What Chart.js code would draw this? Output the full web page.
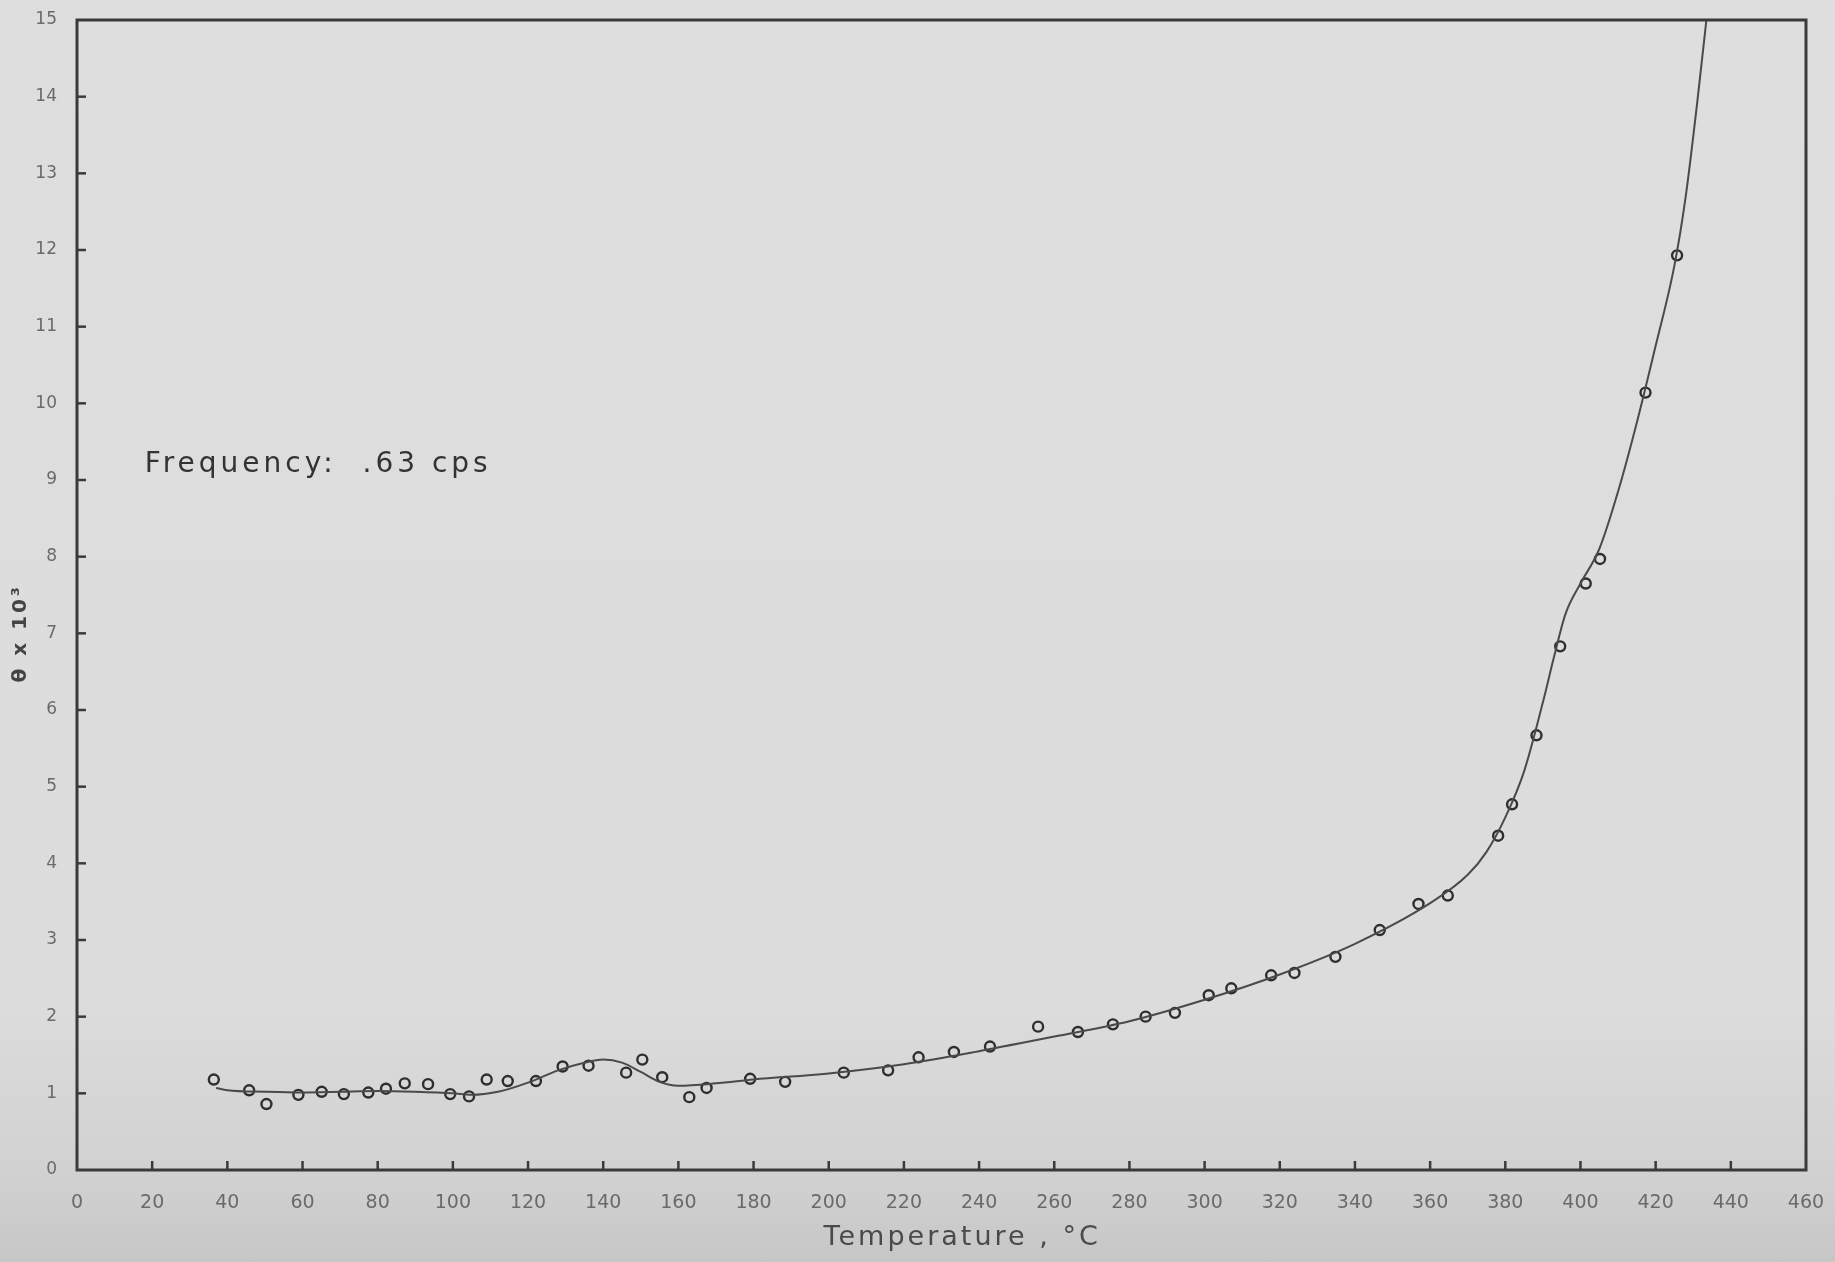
<!DOCTYPE html>
<html>
<head>
<meta charset="utf-8">
<title>Damping vs temperature</title>
<script src="https://cdn.jsdelivr.net/npm/chart.js@4.4.1/dist/chart.umd.min.js"></script>
<style>
  html, body { margin: 0; padding: 0; }
  body {
    width: 1835px; height: 1262px; overflow: hidden;
    background: linear-gradient(to bottom, #dedede 0%, #dcdcdc 80%, #d0d0d0 94%, #c6c6c6 100%);
  }
  #wrap { position: relative; width: 1835px; height: 1262px; }
</style>
</head>
<body>
<div id="wrap"><canvas id="c" width="1835" height="1262"></canvas></div>
<script>
// Measured points: temperature (°C) and damping θ × 10³
const temps = [36.4, 45.8, 50.4, 58.9, 65.1, 71.0, 77.5, 82.2, 87.2, 93.4,
               99.3, 104.3, 109.0, 114.6, 122.1, 129.2, 136.1, 146.1, 150.4, 155.7,
               162.9, 167.5, 179.1, 188.4, 204.0, 215.8, 223.9, 233.3, 242.9, 255.7,
               266.3, 275.6, 284.3, 292.1, 301.1, 307.1, 317.7, 323.9, 334.8, 346.6,
               356.9, 364.7, 378.1, 381.8, 388.3, 394.6, 401.4, 405.2, 417.3, 425.7];
const theta = [1.18, 1.04, 0.86, 0.98, 1.02, 0.99, 1.01, 1.06, 1.13, 1.12,
               0.99, 0.96, 1.18, 1.16, 1.16, 1.35, 1.36, 1.27, 1.44, 1.21,
               0.95, 1.07, 1.19, 1.15, 1.27, 1.30, 1.47, 1.54, 1.61, 1.87,
               1.80, 1.90, 2.00, 2.05, 2.28, 2.37, 2.54, 2.57, 2.78, 3.13,
               3.47, 3.58, 4.36, 4.77, 5.67, 6.83, 7.65, 7.97, 10.14, 11.93];

// Hand-drawn smooth curve through the measurements
const curveT     = [37, 40, 50, 60, 70, 80, 90, 100, 105, 112,
                    120, 128, 135, 140, 145, 150, 155, 160, 170, 180,
                    200, 220, 240, 260, 280, 300, 320, 340, 360, 370,
                    375, 380, 385, 390, 393, 396, 400, 405, 410, 415,
                    420, 425, 428, 431, 433.5];
const curveTheta = [1.07, 1.04, 1.02, 1.01, 1.02, 1.03, 1.02, 1.00, 0.98, 1.02,
                    1.14, 1.30, 1.40, 1.44, 1.40, 1.28, 1.15, 1.10, 1.13, 1.18,
                    1.26, 1.38, 1.55, 1.74, 1.94, 2.22, 2.55, 2.95, 3.48, 3.85,
                    4.15, 4.60, 5.20, 6.10, 6.70, 7.25, 7.65, 8.10, 8.85, 9.75,
                    10.75, 11.80, 12.70, 13.90, 15.0];

// Axis ranges and tick steps
const xRange = [0, 460];
const xStep = 20;
const yRange = [0, 15];
const yStep = 1;

// Text drawn on the figure
const xTitle = 'Temperature , °C';
const yTitle = 'θ x 10³';
const noteText = 'Frequency:  .63 cps';
const notePos = [18, 9.2];

const ink = '#3a3a3a';
const labelInk = '#6a6a6a';

const measured = temps.map((t, i) => ({ x: t, y: theta[i] }));
const curve = curveT.map((t, i) => ({ x: t, y: curveTheta[i] }));

// Frame, inward tick marks and free text
const framePlugin = {
  id: 'frame',
  afterDraw(chart) {
    const { ctx, chartArea: a, scales } = chart;
    const xs = scales.x, ys = scales.y;
    ctx.save();
    ctx.strokeStyle = ink;
    ctx.lineWidth = 3;
    ctx.strokeRect(a.left, a.top, a.right - a.left, a.bottom - a.top);

    ctx.lineWidth = 2.5;
    for (let v = xRange[0] + xStep; v < xRange[1]; v += xStep) {
      const px = xs.getPixelForValue(v);
      ctx.beginPath(); ctx.moveTo(px, a.bottom); ctx.lineTo(px, a.bottom - 9); ctx.stroke();
    }
    for (let v = yRange[0] + yStep; v < yRange[1]; v += yStep) {
      const py = ys.getPixelForValue(v);
      ctx.beginPath(); ctx.moveTo(a.left, py); ctx.lineTo(a.left + 9, py); ctx.stroke();
    }

    ctx.textAlign = 'center';
    ctx.textBaseline = 'middle';

    // x axis title
    ctx.fillStyle = '#4a4a4a';
    ctx.font = '27px "DejaVu Sans"';
    ctx.letterSpacing = '3px';
    ctx.fillText(xTitle, xs.getPixelForValue(235.5), 1238);

    // y axis title (rotated)
    ctx.save();
    ctx.translate(21, ys.getPixelForValue(7.0));
    ctx.rotate(-Math.PI / 2);
    ctx.font = 'bold 20px "DejaVu Sans"';
    ctx.letterSpacing = '3px';
    ctx.fillStyle = '#444';
    ctx.fillText(yTitle, 0, 0);
    ctx.restore();

    // frequency note
    ctx.font = '28px "DejaVu Sans"';
    ctx.letterSpacing = '4px';
    ctx.fillStyle = '#333';
    ctx.textAlign = 'left';
    ctx.fillText(noteText, xs.getPixelForValue(notePos[0]), ys.getPixelForValue(notePos[1]));
    ctx.restore();
  }
};

new Chart(document.getElementById('c'), {
  type: 'scatter',
  data: {
    datasets: [
      {
        type: 'line',
        label: 'fit',
        data: curve,
        borderColor: '#4a4a4a',
        borderWidth: 2,
        pointRadius: 0,
        fill: false,
        cubicInterpolationMode: 'monotone'
      },
      {
        label: 'measured',
        data: measured,
        showLine: false,
        pointRadius: 5,
        pointBorderWidth: 2.4,
        pointBorderColor: '#2e2e2e',
        pointBackgroundColor: 'rgba(0,0,0,0)'
      }
    ]
  },
  options: {
    responsive: false,
    animation: false,
    events: [],
    layout: { padding: { top: 20, right: 29, left: 0, bottom: 0 } },
    plugins: { legend: { display: false }, tooltip: { enabled: false } },
    scales: {
      x: {
        type: 'linear',
        min: xRange[0], max: xRange[1],
        afterFit(scale) {
          scale.height = 92;
          scale.paddingLeft = 0;
          scale.paddingRight = 0;
        },
        grid: { display: false, drawTicks: false },
        border: { display: false },
        ticks: {
          stepSize: xStep,
          padding: 22,
          color: labelInk,
          font: { family: '"DejaVu Sans"', size: 19 },
          maxRotation: 0,
          autoSkip: false
        }
      },
      y: {
        type: 'linear',
        min: yRange[0], max: yRange[1],
        afterFit(scale) {
          scale.width = 77;
          scale.paddingTop = 0;
          scale.paddingBottom = 0;
        },
        grid: { display: false, drawTicks: false },
        border: { display: false },
        ticks: {
          stepSize: yStep,
          padding: 20,
          color: labelInk,
          font: { family: '"DejaVu Sans"', size: 17 }
        }
      }
    }
  },
  plugins: [framePlugin]
});
</script>
</body>
</html>
